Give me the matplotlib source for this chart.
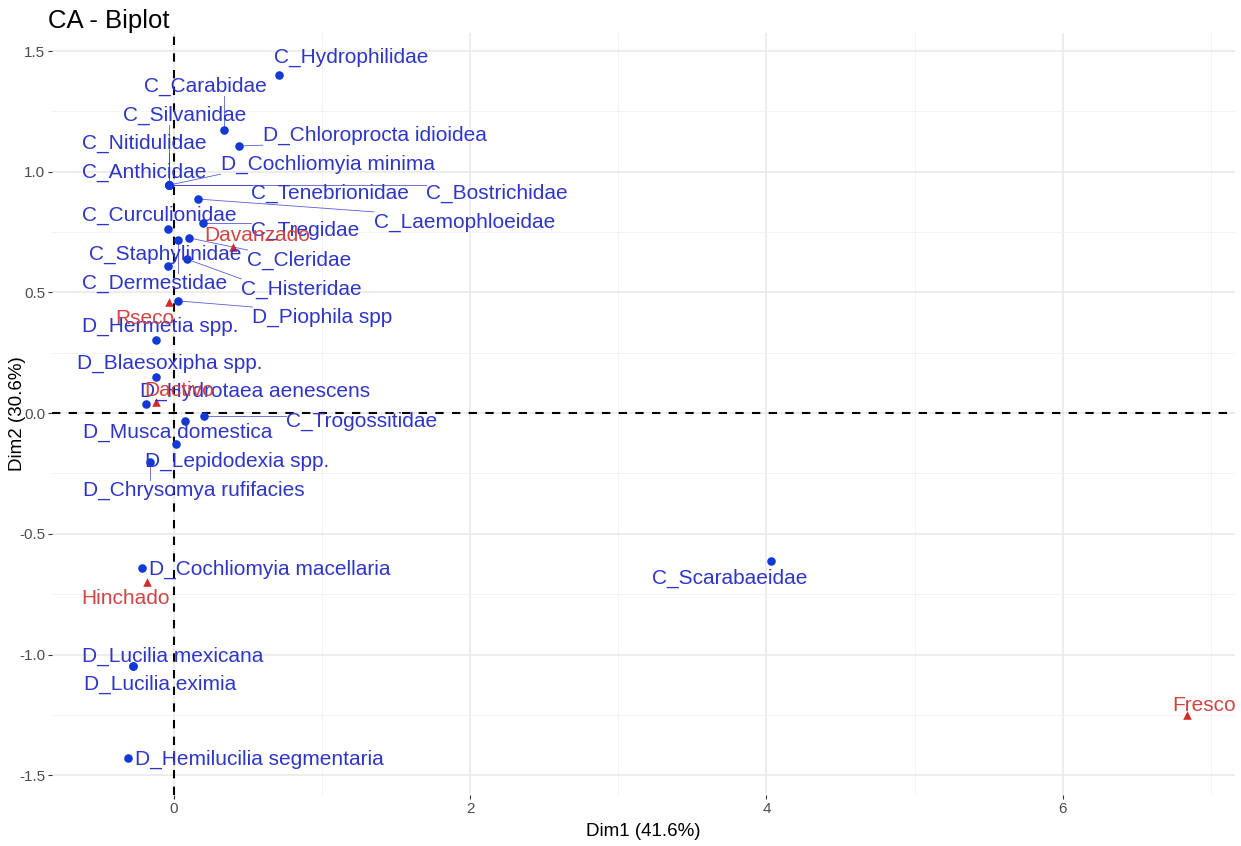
import numpy as np
import matplotlib
matplotlib.use("Agg")
import matplotlib.pyplot as plt
from matplotlib.ticker import MultipleLocator, FuncFormatter

plt.rcParams['font.family'] = ['Liberation Sans', 'DejaVu Sans']

# row coordinates (insect taxa)
row_names = ["C_Hydrophilidae", "C_Carabidae", "C_Silvanidae", "C_Nitidulidae", "C_Anthicidae",
             "D_Chloroprocta idioidea", "D_Cochliomyia minima", "C_Tenebrionidae", "C_Bostrichidae",
             "C_Laemophloeidae", "C_Curculionidae", "C_Tregidae", "C_Staphylinidae", "C_Cleridae",
             "C_Dermestidae", "C_Histeridae", "D_Piophila spp", "D_Hermetia spp.", "D_Blaesoxipha spp.",
             "D_Hydrotaea aenescens", "C_Trogossitidae", "D_Musca domestica", "D_Lepidodexia spp.",
             "D_Chrysomya rufifacies", "D_Cochliomyia macellaria", "D_Lucilia mexicana",
             "D_Lucilia eximia", "D_Hemilucilia segmentaria", "C_Scarabaeidae"]
row_dim1 = [0.71, 0.34, -0.03, -0.03, -0.03, 0.44, -0.03, -0.03, -0.03, 0.164, -0.038, 0.20, -0.038,
            0.103, 0.03, 0.09, 0.03, -0.117, -0.121, -0.184, 0.204, 0.074, 0.018, -0.157, -0.216,
            -0.277, -0.277, -0.31, 4.03]
row_dim2 = [1.40, 1.173, 0.945, 0.945, 0.945, 1.107, 0.945, 0.945, 0.945, 0.887, 0.765, 0.786, 0.609,
            0.726, 0.717, 0.638, 0.465, 0.305, 0.150, 0.037, -0.012, -0.033, -0.126, -0.202, -0.642,
            -1.048, -1.048, -1.43, -0.613]

# column coordinates (decomposition stages)
col_names = ["Davanzado", "Rseco", "Dactivo", "Hinchado", "Fresco"]
col_dim1 = [0.40, -0.034, -0.117, -0.18, 6.84]
col_dim2 = [0.687, 0.461, 0.047, -0.70, -1.25]

# label placement (repelled positions)
row_lab_x = [1.20, 0.216, 0.074, -0.196, -0.196, 1.356, 1.039, 1.053, 2.18, 1.963, -0.094, 0.884,
             -0.054, 0.850, -0.128, 0.864, 1.005, -0.088, -0.027, 0.547, 1.269, 0.027, 0.425, 0.135,
             0.648, -0.007, -0.094, 0.580, 3.752]
row_lab_y = [1.475, 1.355, 1.235, 1.119, 0.999, 1.152, 1.032, 0.912, 0.912, 0.792, 0.821, 0.758,
             0.659, 0.634, 0.539, 0.514, 0.398, 0.361, 0.207, 0.091, -0.033, -0.079, -0.199, -0.319,
             -0.646, -1.007, -1.123, -1.434, -0.684]
col_lab_x = [0.567, -0.196, 0.034, -0.324, 6.95]
col_lab_y = [0.738, 0.394, 0.095, -0.767, -1.21]

blue_pt = "#1238d6"
blue_txt = "#2e36c6"
red_pt = "#d42a2a"
red_txt = "#d14444"

fig = plt.figure(figsize=(12.41, 8.46), dpi=100)
ax = fig.add_axes([0.042, 0.060, 0.953, 0.901])

ax.set_xlim(-0.82, 7.16)
ax.set_ylim(-1.583, 1.575)

ax.xaxis.set_major_locator(MultipleLocator(2))
ax.xaxis.set_minor_locator(MultipleLocator(1))
ax.yaxis.set_major_locator(MultipleLocator(0.5))
ax.yaxis.set_minor_locator(MultipleLocator(0.25))
ax.grid(which='major', color='#e8e8e8', linewidth=1.1, zorder=0)
ax.grid(which='minor', color='#f1f1f1', linewidth=0.6, zorder=0)
ax.set_axisbelow(True)
for s in ax.spines.values():
    s.set_visible(False)
ax.tick_params(which='major', length=3, width=0.8, color='#333333', labelcolor='#4d4d4d',
               labelsize=11, pad=2)
ax.tick_params(which='minor', length=0)
ax.yaxis.set_major_formatter(FuncFormatter(lambda v, p: f"{v:.1f}"))
ax.xaxis.set_major_formatter(FuncFormatter(lambda v, p: f"{v:.0f}"))

ax.axhline(0, color='black', linestyle=(0, (4, 4)), linewidth=1.5, zorder=1)
ax.axvline(0, color='black', linestyle=(0, (4, 4)), linewidth=1.5, zorder=1)

ax.scatter(row_dim1, row_dim2, s=38, color=blue_pt, marker='o', zorder=3, linewidths=0)
ax.scatter(col_dim1, col_dim2, s=38, color=red_pt, marker='^', zorder=3, linewidths=0)

texts = []
for name, x, y, lx, ly in zip(row_names, row_dim1, row_dim2, row_lab_x, row_lab_y):
    t = ax.text(lx, ly, name, color=blue_txt, fontsize=15, ha='center', va='center', zorder=4)
    texts.append((t, x, y, blue_txt))
for name, x, y, lx, ly in zip(col_names, col_dim1, col_dim2, col_lab_x, col_lab_y):
    t = ax.text(lx, ly, name, color=red_txt, fontsize=15, ha='center', va='center', zorder=4)
    texts.append((t, x, y, red_txt))

# connector segments from each point to its label box
fig.canvas.draw()
renderer = fig.canvas.get_renderer()
inv = ax.transData.inverted()
for t, x, y, c in texts:
    bb = t.get_window_extent(renderer).expanded(1.0, 1.05)
    px, py = ax.transData.transform((x, y))
    cx = min(max(px, bb.x0), bb.x1)
    cy = min(max(py, bb.y0), bb.y1)
    d = np.hypot(cx - px, cy - py)
    if d > 14:
        ux, uy = (cx - px) / d, (cy - py) / d
        sx, sy = px + ux * 4, py + uy * 4
        (dx0, dy0) = inv.transform((sx, sy))
        (dx1, dy1) = inv.transform((cx, cy))
        ax.plot([dx0, dx1], [dy0, dy1], color=c, linewidth=0.6, alpha=0.8, zorder=2)

ax.set_xlabel("Dim1 (41.6%)", fontsize=13.5, color='black', labelpad=5)
ax.set_ylabel("Dim2 (30.6%)", fontsize=13.5, color='black')
ax.yaxis.set_label_coords(-0.022, 0.5)
fig.text(0.039, 0.975, "CA - Biplot", fontsize=18.5, ha='left', va='center')

fig.savefig("out.png", dpi=100)
